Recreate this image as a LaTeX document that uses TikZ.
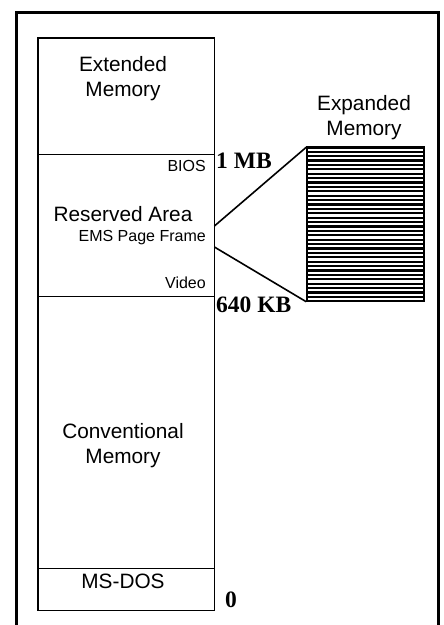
\documentclass[tikz,border=0pt]{standalone}
\usepackage{fontspec}
\setmainfont{Liberation Sans}
\newfontfamily\addrfont{Liberation Serif}
\usetikzlibrary{positioning,calc}

\begin{document}
\begin{tikzpicture}[x=1pt, y=-1pt,
    region/.style={draw=black, line width=0.8pt, minimum width=176pt, inner sep=0pt},
    lbl/.style={font=\fontsize{20.8}{25}\selectfont, align=center, inner sep=0pt},
    sub/.style={font=\fontsize{16}{18}\selectfont, anchor=east, inner sep=0pt},
    addr/.style={font=\addrfont\bfseries\fontsize{23.5}{24}\selectfont, anchor=west, inner sep=0pt},
    link/.style={line width=1.6pt},
    hatch/.style={line width=2.1pt}
  ]
    \useasboundingbox (0,0) rectangle (444,625);
    % outer frame, cut at the bottom
    \draw[line width=3pt] (16,630) -- (16,12) -- (438,12) -- (438,630);

    % memory column
    \node[region, minimum height=116pt] (EXT) at (126,96) {};
    \node[region, minimum height=142pt] (RES) at (126,225) {};
    \node[region, minimum height=272pt] (CONV) at (126,432) {};
    \node[region, minimum height=42pt] (DOS) at (126,589) {};
    \draw[line width=1.8pt] (EXT.north west) rectangle (DOS.south east);

    \node[lbl] (extlbl) at (123,79) {Extended\\Memory};
    \node[lbl] (reslbl) at (123,214) {Reserved Area};
    \node[lbl] (convlbl) at (123,446) {Conventional\\Memory};
    \node[lbl] (doslbl) at (123,581) {MS-DOS};
    \node[sub] (bios) at (206,166) {BIOS};
    \node[sub] (ems) at (206,238) {EMS Page Frame};
    \node[sub] (video) at (206,283) {Video};

    \node[addr] (mb) at (216,161) {1 MB};
    \node[addr] (kb) at (216,305) {640 KB};
    \node[addr] (zero) at (225,600) {0};

    % expanded memory
    \node[lbl] (explbl) at (364,118) {Expanded\\Memory};
    \node[draw=black, line width=1.5pt, minimum width=117pt, minimum height=153pt,
      inner sep=0pt] (EXP) at (365.5,224.5) {};
    \foreach \k in {1,...,34} {
      \draw[hatch] ($(EXP.north west)+(0,4.4*\k)$) -- ($(EXP.north east)+(0,4.4*\k)$);
    }
    \draw[line width=3.5pt] (EXP.north west) -- (EXP.north east);

    \draw[link] ([yshift=-1pt]RES.east) -- (EXP.north west);
    \draw[link] ([yshift=-22pt]RES.east) -- (EXP.south west);
  \end{tikzpicture}
\end{document}
